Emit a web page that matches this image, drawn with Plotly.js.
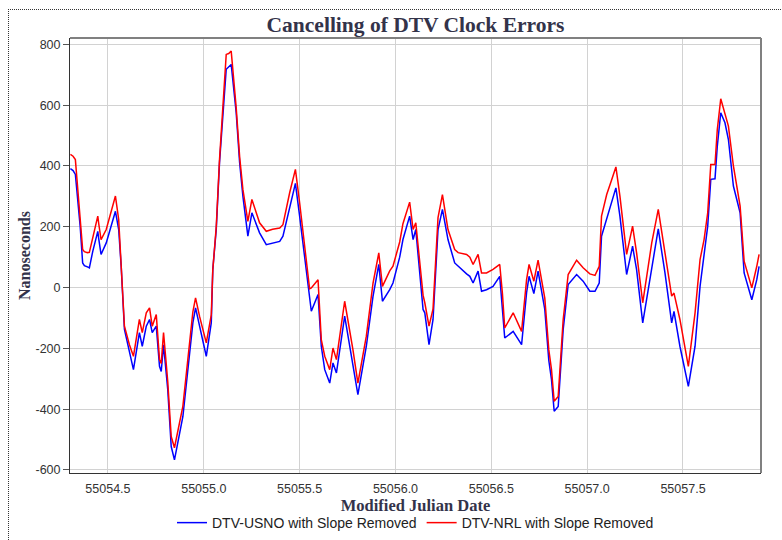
<!DOCTYPE html>
<html>
<head>
<meta charset="utf-8">
<script src="https://cdn.plot.ly/plotly-3.0.1.min.js"></script>
<style>
  html, body { margin: 0; padding: 0; background: #fff; }
  #wrap { position: relative; width: 782px; height: 540px; overflow: hidden; }
  #chart { width: 782px; height: 540px; }
  #frame { position: absolute; left: 8px; top: 9px; width: 900px; height: 700px;
           border-left: 1px dotted #333; border-top: 1px dotted #333; pointer-events: none; }
</style>
</head>
<body>
<div id="wrap"><div id="chart"></div><div id="frame"></div></div>
<script>
// Modified Julian Date samples (shared time grid)
const mjd = [
  55054.304, 55054.318, 55054.330, 55054.342, 55054.355, 55054.368, 55054.377, 55054.393, 55054.403, 55054.421,
  55054.447, 55054.452, 55054.464, 55054.491, 55054.515, 55054.539, 55054.556, 55054.569, 55054.586, 55054.612,
  55054.633, 55054.664, 55054.679, 55054.700, 55054.717, 55054.731, 55054.752, 55054.769, 55054.778, 55054.790,
  55054.812, 55054.830, 55054.847, 55054.891, 55054.917, 55054.943, 55054.957, 55054.978, 55055.013, 55055.039,
  55055.047, 55055.065, 55055.082, 55055.117, 55055.130, 55055.143, 55055.169, 55055.187, 55055.204, 55055.230,
  55055.251, 55055.291, 55055.326, 55055.359, 55055.396, 55055.413, 55055.448, 55055.478, 55055.500, 55055.535,
  55055.552, 55055.561, 55055.596, 55055.613, 55055.631, 55055.657, 55055.674, 55055.692, 55055.735, 55055.778,
  55055.804, 55055.848, 55055.883, 55055.913, 55055.932, 55055.970, 55055.987, 55056.022, 55056.039, 55056.074,
  55056.092, 55056.106, 55056.144, 55056.153, 55056.175, 55056.196, 55056.222, 55056.245, 55056.274, 55056.309,
  55056.327, 55056.371, 55056.388, 55056.405, 55056.431, 55056.449, 55056.475, 55056.509, 55056.544, 55056.558,
  55056.570, 55056.614, 55056.658, 55056.684, 55056.697, 55056.722, 55056.744, 55056.779, 55056.800, 55056.814,
  55056.828, 55056.849, 55056.875, 55056.901, 55056.945, 55056.979, 55057.014, 55057.041, 55057.063, 55057.075,
  55057.102, 55057.128, 55057.150, 55057.171, 55057.206, 55057.237, 55057.258, 55057.290, 55057.337, 55057.371,
  55057.406, 55057.441, 55057.453, 55057.484, 55057.528, 55057.563, 55057.589, 55057.610, 55057.629, 55057.645,
  55057.667, 55057.679, 55057.697, 55057.719, 55057.737, 55057.763, 55057.798, 55057.819, 55057.841, 55057.859,
  55057.885, 55057.897
];

// DTV-USNO with slope removed (ns)
const usno = [
  391, 385, 372, 301, 202, 81, 72, 68, 65, 120,
  185, 160, 109, 147, 202, 251, 191, 70, -138, -214,
  -270, -148, -193, -127, -105, -148, -127, -259, -276, -188,
  -336, -523, -567, -424, -270, -116, -67, -127, -226, -116,
  59, 191, 411, 718, 725, 734, 575, 411, 301, 169,
  246, 180, 141, 145, 152, 169, 268, 343, 235, 59,
  -28, -78, -23, -193, -270, -314, -248, -281, -94, -248,
  -352, -193, -28, 76, -45, -7, 15, 100, 158, 235,
  158, 191, -72, -83, -188, -105, 191, 257, 158, 81,
  70, 45, 37, 15, 54, -12, -7, 4, 37, -62,
  -166, -144, -188, -17, 37, -20, 54, -72, -240, -303,
  -407, -391, -138, 10, 43, 21, -12, -12, 15, 169,
  224, 284, 328, 235, 43, 136, 59, -116, 59, 193,
  48, -116, -78, -193, -325, -193, 4, 109, 202, 356,
  358, 465, 575, 542, 487, 334, 246, 48, 4, -40,
  26, 70
];

// DTV-NRL with slope removed (ns)
const nrl = [
  438, 432, 421, 334, 224, 125, 118, 115, 116, 164,
  235, 210, 158, 191, 251, 301, 224, 81, -127, -188,
  -226, -105, -148, -83, -67, -127, -89, -237, -250, -148,
  -310, -490, -527, -390, -240, -80, -34, -95, -182, -90,
  59, 200, 420, 767, 770, 778, 592, 430, 323, 218,
  290, 213, 185, 192, 196, 207, 312, 389, 279, 92,
  -4, -1, 26, -171, -226, -270, -199, -237, -45, -204,
  -314, -160, 15, 114, 4, 55, 70, 150, 210, 281,
  191, 213, -25, -50, -127, -70, 230, 306, 191, 125,
  115, 109, 100, 76, 109, 48, 48, 60, 76, -20,
  -133, -83, -144, 26, 76, 21, 90, -35, -205, -270,
  -374, -358, -105, 43, 90, 65, 45, 40, 70, 235,
  306, 355, 397, 301, 109, 202, 114, -50, 147, 257,
  114, -28, -18, -105, -259, -83, 92, 158, 246, 405,
  405, 520, 621, 570, 531, 400, 268, 87, 37, -1,
  70, 109
];

const xTickVals = [55054.5, 55055.0, 55055.5, 55056.0, 55056.5, 55057.0, 55057.5];
const xTickText = ['55054.5', '55055.0', '55055.5', '55056.0', '55056.5', '55057.0', '55057.5'];
const yTickVals = [-600, -400, -200, 0, 200, 400, 600, 800];
const yTickText = ['-600', '-400', '-200', '0', '200', '400', '600', '800'];

const traces = [
  { x: mjd, y: usno, type: 'scatter', mode: 'lines', name: 'DTV-USNO with Slope Removed',
    line: { color: '#0000ff', width: 1.5, shape: 'linear' } },
  { x: mjd, y: nrl, type: 'scatter', mode: 'lines', name: 'DTV-NRL with Slope Removed',
    line: { color: '#ff0000', width: 1.5, shape: 'linear' } }
];

const layout = {
  width: 782, height: 540,
  margin: { l: 70, r: 21, t: 38, b: 67, autoexpand: false },
  paper_bgcolor: '#ffffff', plot_bgcolor: '#ffffff',
  font: { family: 'Liberation Sans, Arial, sans-serif', size: 12, color: '#333333' },
  title: {
    text: '<b>Cancelling of DTV Clock Errors</b>',
    font: { family: 'Liberation Serif, Times New Roman, serif', size: 21.5, color: '#33334a' },
    x: 0.5, xref: 'paper', xanchor: 'center',
    y: 1 - 24 / 540, yref: 'container', yanchor: 'middle'
  },
  xaxis: {
    range: [55054.302, 55057.907],
    tickvals: xTickVals, ticktext: xTickText,
    showgrid: true, gridcolor: '#d2d2d2', gridwidth: 1,
    zeroline: false, showline: true, linecolor: '#333333', linewidth: 1,
    ticks: 'outside', ticklen: 4, tickcolor: 'rgba(0,0,0,0)',
    tickfont: { size: 12.5, color: '#333333' },
    title: { text: '<b>Modified Julian Date</b>', standoff: 2,
             font: { family: 'Liberation Serif, Times New Roman, serif', size: 16.5, color: '#33334a' } }
  },
  yaxis: {
    range: [-610, 821],
    tickvals: yTickVals, ticktext: yTickText,
    showgrid: true, gridcolor: '#d2d2d2', gridwidth: 1,
    zeroline: false, showline: true, linecolor: '#333333', linewidth: 1,
    ticks: 'outside', ticklen: 6, tickcolor: '#555555',
    tickfont: { size: 12.5, color: '#333333' },
    title: { text: '<b>Nanoseconds</b>', standoff: 0,
             font: { family: 'Liberation Serif, Times New Roman, serif', size: 16, color: '#33334a' } }
  },
  shapes: [
    { type: 'line', xref: 'paper', yref: 'paper', x0: 0, x1: 1, y0: 1, y1: 1,
      line: { color: '#808080', width: 2 } },
    { type: 'line', xref: 'paper', yref: 'paper', x0: 1, x1: 1, y0: 0, y1: 1,
      line: { color: '#808080', width: 2 } }
  ],
  showlegend: true,
  legend: {
    orientation: 'h', x: 0.5, xanchor: 'center', y: -0.115, yanchor: 'middle',
    xref: 'paper', yref: 'paper',
    font: { family: 'Liberation Sans, Arial, sans-serif', size: 14, color: '#222222' },
    itemwidth: 30, bgcolor: 'rgba(0,0,0,0)'
  }
};

Plotly.newPlot('chart', traces, layout, { displayModeBar: false, staticPlot: true });
</script>
</body>
</html>
